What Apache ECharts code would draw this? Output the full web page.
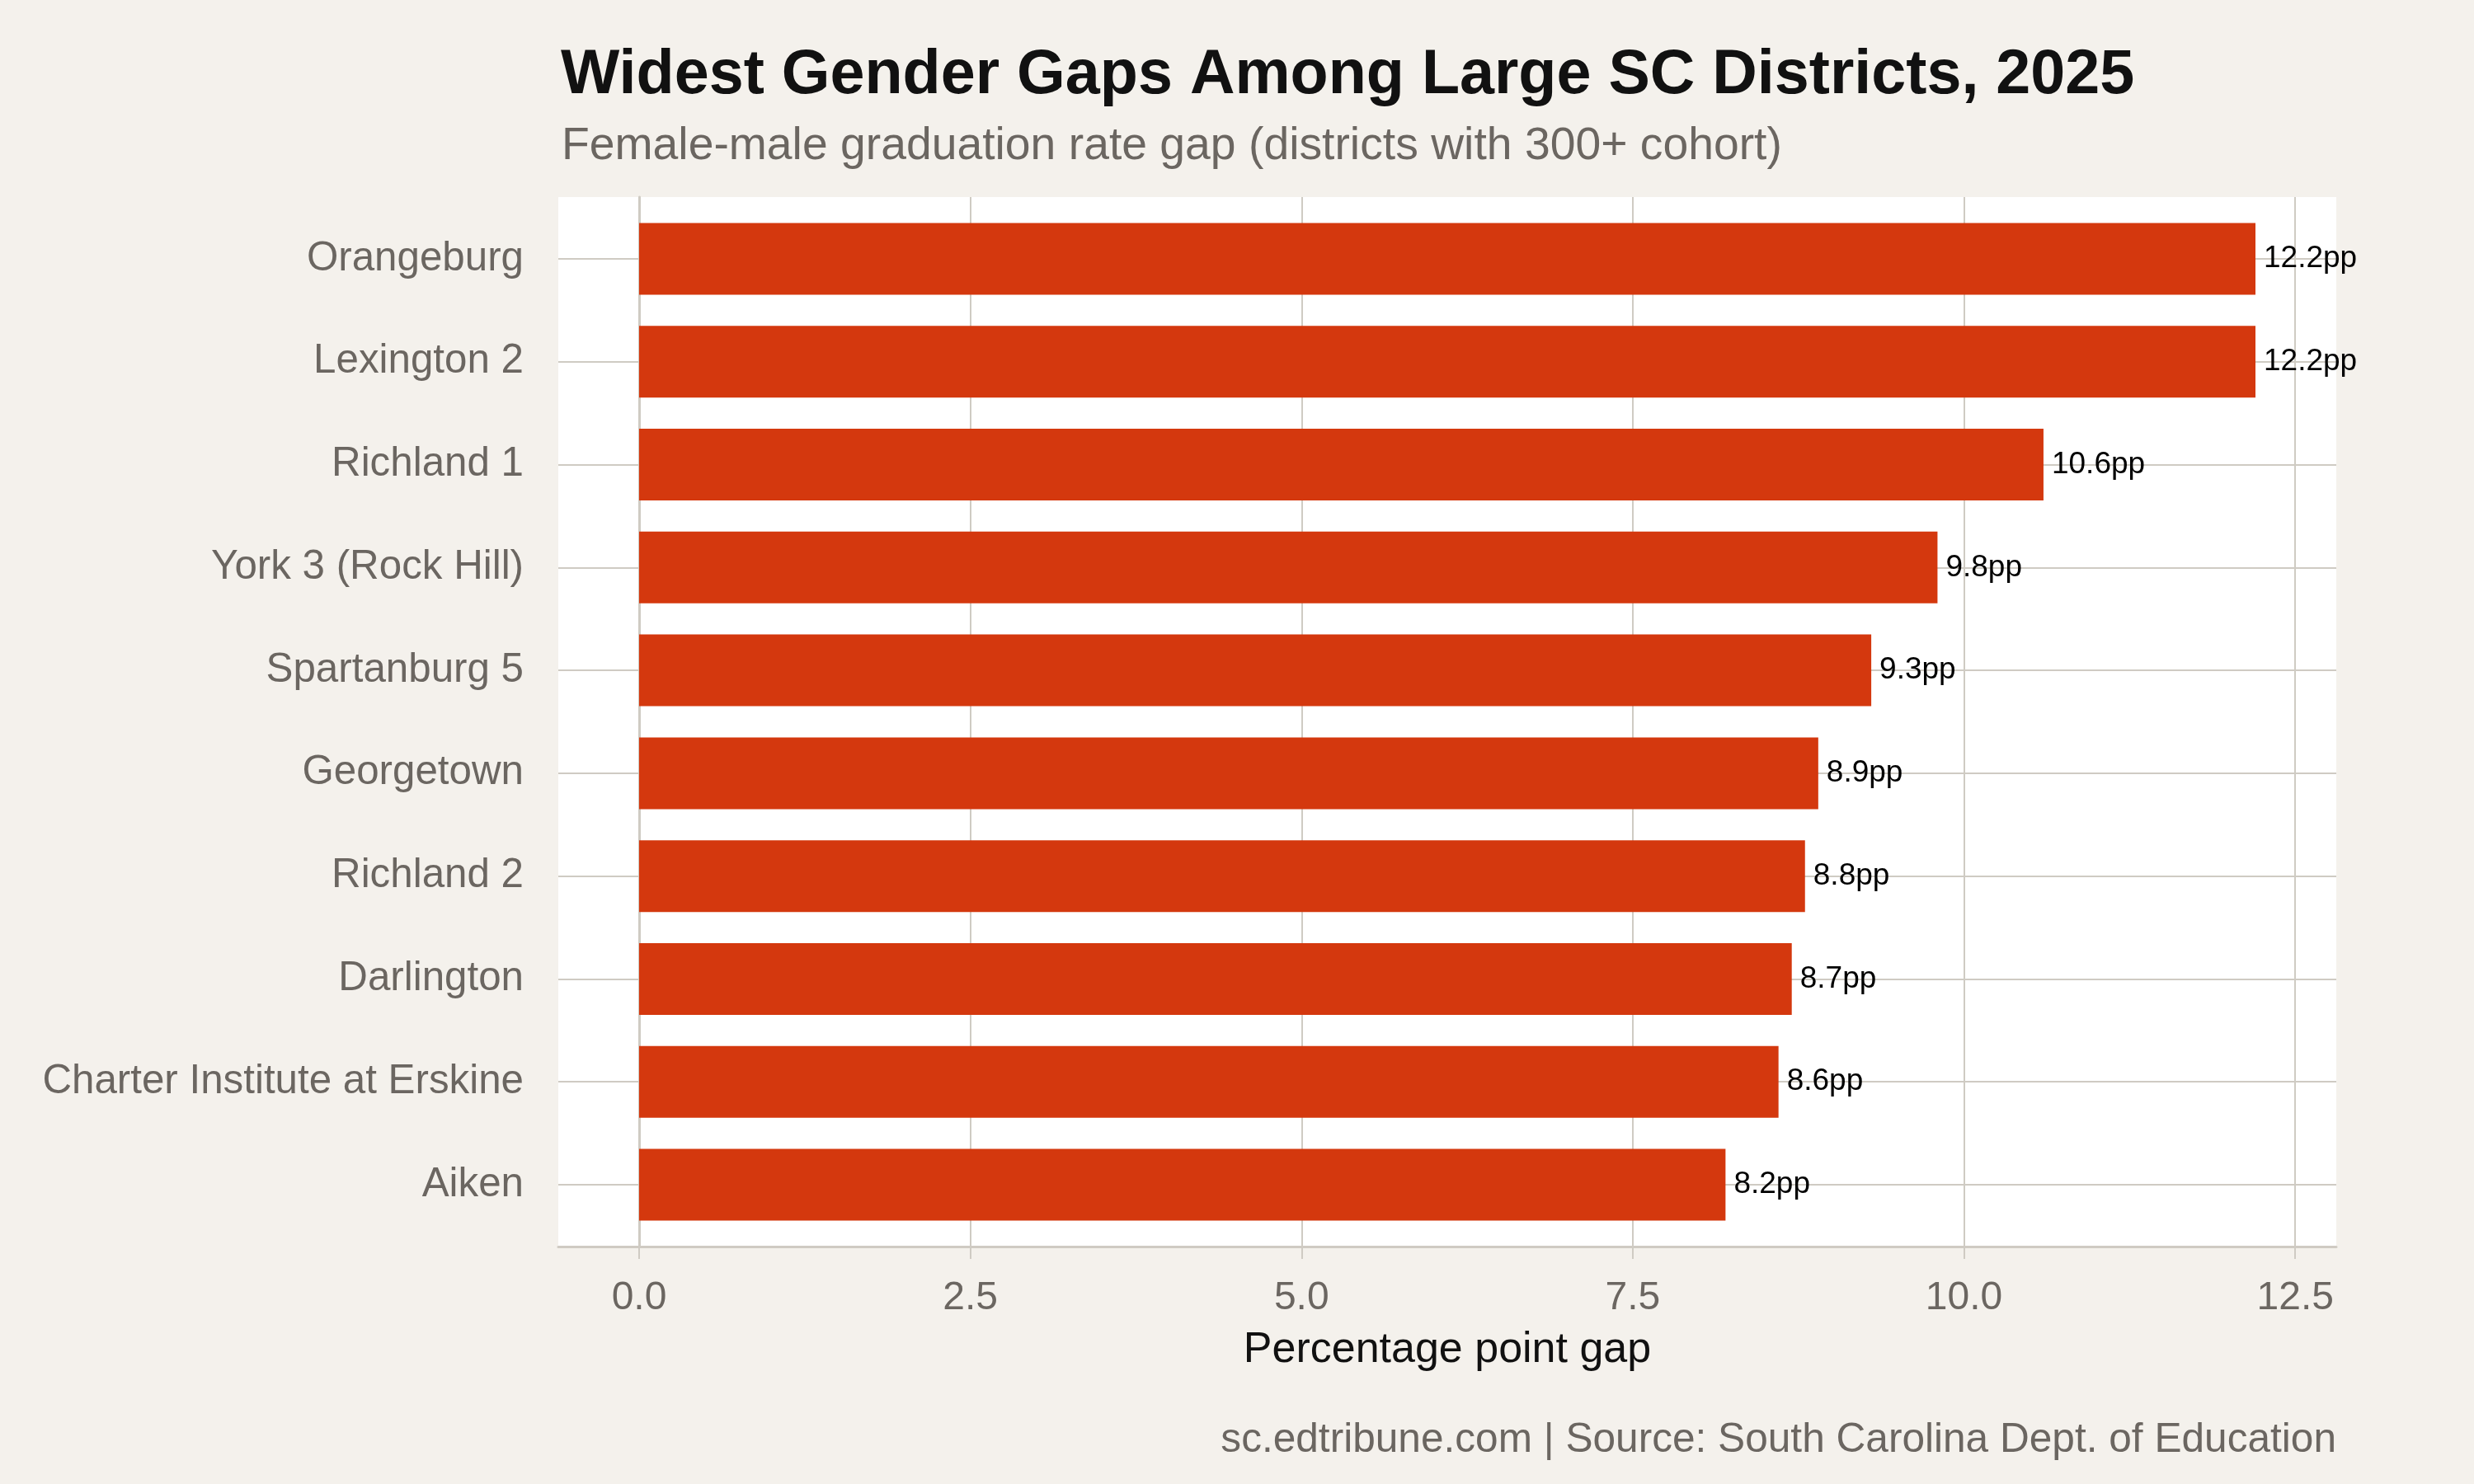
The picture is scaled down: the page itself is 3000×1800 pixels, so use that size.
<!DOCTYPE html>
<html>
  <head>
    <meta charset="utf-8">
    <script src="https://cdn.jsdelivr.net/npm/echarts@6.0.0/dist/echarts.min.js"></script>
    <style>
      html, body { margin: 0; padding: 0; background: #f4f1ec; }
      #chart { width: 3000px; height: 1800px; }
    </style>
  </head>
  <body>
    <div id="chart"></div>
    <script>
      // data
      const districts = ['Orangeburg', 'Lexington 2', 'Richland 1', 'York 3 (Rock Hill)', 'Spartanburg 5',
        'Georgetown', 'Richland 2', 'Darlington', 'Charter Institute at Erskine', 'Aiken'];
      const gaps = [12.2, 12.2, 10.6, 9.8, 9.3, 8.9, 8.8, 8.7, 8.6, 8.2];
      const xTicks = [0, 2.5, 5, 7.5, 10, 12.5];

      const grey = '#6b6661';
      const gridColor = '#cfcbc3';
      const font = 'Liberation Sans';
      const xMin = -0.61, xMax = 12.81;

      const chart = echarts.init(document.getElementById('chart'), null, { renderer: 'canvas' });
      chart.setOption({
        backgroundColor: '#f4f1ec',
        textStyle: { fontFamily: font },
        title: [
          { text: 'Widest Gender Gaps Among Large SC Districts, 2025', left: 675, top: 49,
            textStyle: { fontSize: 75.5, fontWeight: 'bold', color: '#111', fontFamily: font } },
          { text: 'Female-male graduation rate gap (districts with 300+ cohort)', left: 676, top: 145,
            textStyle: { fontSize: 55.3, fontWeight: 'normal', color: grey, fontFamily: font } },
          { text: 'sc.edtribune.com | Source: South Carolina Dept. of Education', right: 162, top: 1717,
            textStyle: { fontSize: 49.6, fontWeight: 'normal', color: grey, fontFamily: font } }
        ],
        grid: [
          // panel background
          { left: 677, top: 239, width: 2156, height: 1273, show: true, backgroundColor: '#ffffff',
            borderWidth: 0, containLabel: false, outerBoundsMode: 'none' },
          // bars
          { left: 677, top: 314, width: 2156, height: 1123, containLabel: false, outerBoundsMode: 'none' }
        ],
        xAxis: [{
          gridIndex: 0, type: 'value', min: xMin, max: xMax,
          name: 'Percentage point gap', nameLocation: 'middle', nameGap: 100,
          nameTextStyle: { fontSize: 52, color: '#111', fontFamily: font },
          axisLine: { show: true, lineStyle: { color: gridColor, width: 3 } },
          axisTick: { show: true, length: 15, customValues: xTicks, lineStyle: { color: gridColor, width: 2 } },
          axisLabel: { customValues: xTicks, fontSize: 48, color: grey, margin: 39,
            formatter: v => v.toFixed(1) },
          splitLine: { show: true, customValues: xTicks, lineStyle: { color: gridColor, width: 2 } }
        }, {
          gridIndex: 1, type: 'value', min: xMin, max: xMax, show: false
        }],
        yAxis: [{
          gridIndex: 0, type: 'value', min: 0, max: 1,
          axisLine: { show: true, lineStyle: { color: gridColor, width: 3 } },
          axisTick: { show: false }, axisLabel: { show: false }, splitLine: { show: false }
        }, {
          gridIndex: 1, type: 'category', data: districts, inverse: true, boundaryGap: false,
          axisLine: { show: false },
          axisTick: { show: true, length: 15, lineStyle: { color: gridColor, width: 2 } },
          axisLabel: { fontSize: 49.3, color: grey, margin: 42 },
          splitLine: { show: true, lineStyle: { color: gridColor, width: 2 } }
        }],
        series: [{
          type: 'bar', xAxisIndex: 1, yAxisIndex: 1, data: gaps, barWidth: 87,
          itemStyle: { color: '#d4380e' },
          label: { show: true, position: 'right', distance: 10, fontSize: 37, color: '#000',
            fontFamily: font, formatter: p => p.value.toFixed(1) + 'pp' }
        }]
      });
    </script>
  </body>
</html>
